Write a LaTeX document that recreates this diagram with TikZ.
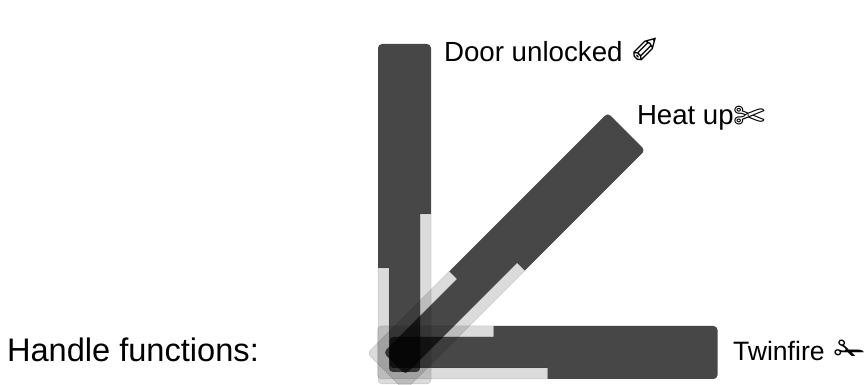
\documentclass[tikz,border=0pt]{standalone}
\usepackage{fontspec}
\setmainfont{Liberation Sans}
\newfontfamily\symfont{DejaVu Sans}
\tikzset{
  x=1pt,y=1pt,
  darkpart/.style={fill=black,fill opacity=.72,draw=none},
  palepart/.style={fill=black,fill opacity=.14,draw=black,draw opacity=.14,line width=.5pt},
  lbl/.style={anchor=base west,inner sep=0pt,outer sep=0pt,text=black},
}
\newcommand{\handledark}[3]{%
  \begin{scope}[shift={(#1,#2)},rotate=#3]
    \path[darkpart] (16,-15.5) -- (170,-15.5) -- (170,-26.5) -- (336,-26.5) arc (-90:0:4) -- (340,22.5) arc (0:90:4) -- (116,26.5) -- (116,15.5) -- (16,15.5) arc (90:180:4) -- (12,-11.5) arc (180:270:4) -- cycle;
  \end{scope}}
\newcommand{\handlepale}[3]{%
  \begin{scope}[shift={(#1,#2)},rotate=#3]
    \path[palepart] (4,-26.5) -- (170,-26.5) -- (170,-15.5) -- (16,-15.5) arc (270:180:4) -- (12,11.5) arc (180:90:4) -- (116,15.5) -- (116,26.5) -- (4,26.5) arc (90:180:4) -- (0,-22.5) arc (180:270:4) -- cycle;
  \end{scope}}
\begin{document}
\begin{tikzpicture}
\useasboundingbox (0,0) rectangle (864,385);
\clip (0,0) rectangle (864,385);
\handledark{404.5}{1}{90}
\handledark{377.5}{32.5}{0}
\handledark{386}{13}{45}
\handlepale{404.5}{1}{90}
\handlepale{377.5}{32.5}{0}
\handlepale{386}{13}{45}
\node[lbl,font=\fontsize{32.6}{36}\selectfont] (title) at (7,23) {Handle functions:};
\node[lbl,font=\fontsize{27.7}{30}\selectfont] (door) at (444,323) {Door unlocked {\symfont\fontsize{36}{40}\selectfont\raisebox{-2pt}{✐}}};
\node[lbl,font=\fontsize{27.6}{30}\selectfont] (heat) at (637,260) {Heat up{\symfont\fontsize{38}{40}\selectfont\raisebox{-5pt}{✄}}};
\node[lbl,font=\fontsize{26.6}{30}\selectfont] (twin) at (733,24) {Twinfire{\symfont\fontsize{37}{40}\selectfont\hspace{10pt}\raisebox{-3pt}{✁}}};
\end{tikzpicture}
\end{document}
